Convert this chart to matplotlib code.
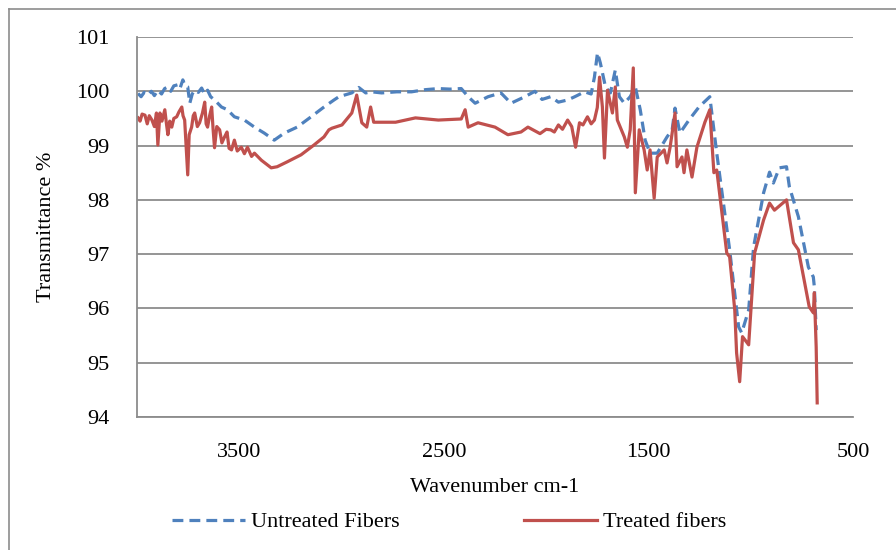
import matplotlib
matplotlib.use("Agg")
import matplotlib.pyplot as plt
from matplotlib.lines import Line2D

# ---- data ----
untreated_wn = [3995, 3980, 3965, 3947, 3930, 3915, 3898, 3880, 3865, 3849, 3835, 3820,
                3801, 3790, 3776, 3765, 3752, 3742, 3730, 3718, 3700, 3684, 3670, 3655,
                3640, 3621, 3587, 3558, 3524, 3475, 3426, 3378, 3329, 3280, 3217, 3149,
                3086, 3037, 3013, 2950, 2916, 2882, 2853, 2804, 2730, 2658, 2590, 2527,
                2470, 2415, 2381, 2347, 2284, 2221, 2172, 2104, 2055, 2020, 1978, 1940,
                1895, 1860, 1812, 1780, 1764, 1749, 1735, 1710, 1686, 1662, 1642, 1618,
                1589, 1564, 1540, 1516, 1492, 1457, 1409, 1384, 1370, 1346, 1302, 1253,
                1200, 1166, 1103, 1059, 1044, 1010, 986, 937, 908, 889, 860, 825, 811,
                767, 718, 694, 689, 680]
untreated_t = [99.96, 99.90, 99.98, 99.93, 100.00, 99.92, 100.02, 99.95, 100.05, 100.08,
               100.00, 100.10, 100.12, 100.05, 100.21, 100.10, 100.08, 99.78, 99.95, 100.02,
               99.98, 100.06, 99.95, 100.02, 99.90, 99.84, 99.71, 99.66, 99.53, 99.47, 99.34,
               99.23, 99.10, 99.23, 99.34, 99.53, 99.71, 99.84, 99.90, 99.97, 100.07, 99.97,
               99.99, 99.97, 99.99, 99.99, 100.03, 100.05, 100.04, 100.05, 99.90, 99.78,
               99.90, 99.97, 99.78, 99.90, 100.00, 99.85, 99.90, 99.80, 99.84, 99.90, 99.99,
               99.95, 100.26, 100.71, 100.52, 100.08, 99.97, 100.39, 99.90, 99.78, 99.90,
               100.08, 99.66, 99.10, 98.86, 98.86, 99.16, 99.29, 99.69, 99.23, 99.47, 99.71,
               99.90, 98.86, 97.08, 95.66, 95.55, 95.97, 97.13, 98.13, 98.51, 98.31, 98.59,
               98.61, 98.24, 97.69, 96.76, 96.58, 96.40, 95.60]

treated_wn = [3995, 3985, 3975, 3961, 3950, 3940, 3927, 3915, 3905, 3898, 3888, 3878, 3864,
              3856, 3849, 3840, 3830, 3820, 3806, 3795, 3781, 3775, 3767, 3752, 3745, 3733,
              3725, 3718, 3705, 3694, 3680, 3669, 3662, 3655, 3645, 3635, 3628, 3621, 3610,
              3596, 3585, 3572, 3560, 3550, 3538, 3524, 3510, 3490, 3475, 3460, 3440, 3426,
              3392, 3344, 3315, 3266, 3198, 3135, 3086, 3062, 3047, 2998, 2950, 2926, 2901,
              2877, 2858, 2843, 2736, 2639, 2527, 2415, 2396, 2381, 2333, 2250, 2187, 2123,
              2089, 2030, 2000, 1978, 1960, 1940, 1920, 1895, 1875, 1856, 1837, 1820, 1798,
              1780, 1764, 1750, 1739, 1725, 1715, 1700, 1676, 1662, 1652, 1618, 1603, 1589,
              1574, 1564, 1545, 1521, 1506, 1492, 1472, 1457, 1423, 1409, 1394, 1370, 1360,
              1336, 1326, 1312, 1287, 1263, 1224, 1200, 1180, 1166, 1117, 1103, 1078, 1069,
              1054, 1040, 1010, 981, 937, 908, 884, 825, 791, 767, 714, 694, 689, 680, 675]
treated_t = [99.51, 99.45, 99.58, 99.56, 99.40, 99.55, 99.47, 99.35, 99.60, 99.01, 99.60,
             99.45, 99.66, 99.40, 99.20, 99.45, 99.34, 99.50, 99.53, 99.62, 99.71, 99.55,
             99.47, 98.46, 99.20, 99.34, 99.55, 99.60, 99.35, 99.42, 99.60, 99.80, 99.40,
             99.34, 99.55, 99.71, 99.30, 98.96, 99.35, 99.29, 99.05, 99.16, 99.25, 98.95,
             98.92, 99.10, 98.90, 98.97, 98.85, 98.97, 98.80, 98.86, 98.73, 98.59, 98.61,
             98.70, 98.83, 99.01, 99.16, 99.29, 99.32, 99.38, 99.60, 99.93, 99.42, 99.34,
             99.71, 99.43, 99.43, 99.51, 99.47, 99.49, 99.66, 99.34, 99.42, 99.34, 99.20,
             99.25, 99.34, 99.22, 99.30, 99.29, 99.25, 99.38, 99.30, 99.47, 99.35, 98.97,
             99.42, 99.38, 99.53, 99.40, 99.47, 99.70, 100.26, 99.71, 98.77, 100.02, 99.60,
             100.08, 99.47, 99.16, 98.97, 99.29, 100.43, 98.13, 99.29, 98.92, 98.55, 98.92,
             98.03, 98.79, 98.92, 98.68, 98.97, 99.60, 98.61, 98.79, 98.50, 98.92, 98.42,
             98.97, 99.43, 99.66, 98.50, 98.55, 97.02, 96.95, 95.97, 95.18, 94.65, 95.48,
             95.33, 97.02, 97.63, 97.94, 97.81, 98.00, 97.21, 97.08, 96.03, 95.92, 96.29,
             95.29, 94.26]

x_ticks = [3500, 2500, 1500, 500]
y_ticks = [94, 95, 96, 97, 98, 99, 100, 101]

# ---- figure ----
W, H = 896, 550
fig = plt.figure(figsize=(W / 100, H / 100), dpi=100)
plt.rcParams['font.family'] = ['Liberation Serif', 'DejaVu Serif']

ax = fig.add_axes([137 / W, 1 - 417 / H, (853 - 137) / W, (417 - 37) / H])

blue = '#4F81BD'
red = '#C0504D'
grid_c = '#8C8C8C'

ax.plot(untreated_wn, untreated_t, color=blue, lw=2.3, dashes=(3.4, 1.9),
        solid_capstyle='butt', label='Untreated Fibers')
ax.plot(treated_wn, treated_t, color=red, lw=2.3, label='Treated fibers')

ax.set_xlim(4000, 500)
ax.set_ylim(94, 101)
ax.set_xticks(x_ticks)
ax.set_yticks(y_ticks)
ax.tick_params(axis='both', length=0, labelsize=16, colors='black')
ax.tick_params(axis='y', pad=20)
ax.tick_params(axis='x', pad=19)

ax.grid(axis='y', color=grid_c, lw=1.3)
ax.set_axisbelow(True)
for s in ['top', 'right']:
    ax.spines[s].set_visible(False)
for s in ['left', 'bottom']:
    ax.spines[s].set_color(grid_c)
    ax.spines[s].set_linewidth(1.3)

ax.set_ylabel('Transmittance %', fontsize=16)
ax.yaxis.set_label_coords(-(137 - 56) / (853 - 137), 0.5)
fig.text(495 / W, 1 - 487 / H, 'Wavenumber cm-1', ha='center', va='center', fontsize=16)

leg = fig.legend(loc='center', bbox_to_anchor=(449 / W, 1 - 522 / H), ncol=2,
                 frameon=False, fontsize=16, handlelength=3.3, handletextpad=0.25,
                 columnspacing=5.6)

# outer chart border (left and top visible)
fig.add_artist(Line2D([9 / W, 9 / W], [0, 1 - 9 / H], transform=fig.transFigure,
                      color='#8C8C8C', lw=1.2))
fig.add_artist(Line2D([9 / W, 1], [1 - 9 / H, 1 - 9 / H], transform=fig.transFigure,
                      color='#8C8C8C', lw=1.2))

fig.savefig('out.png', dpi=100)
